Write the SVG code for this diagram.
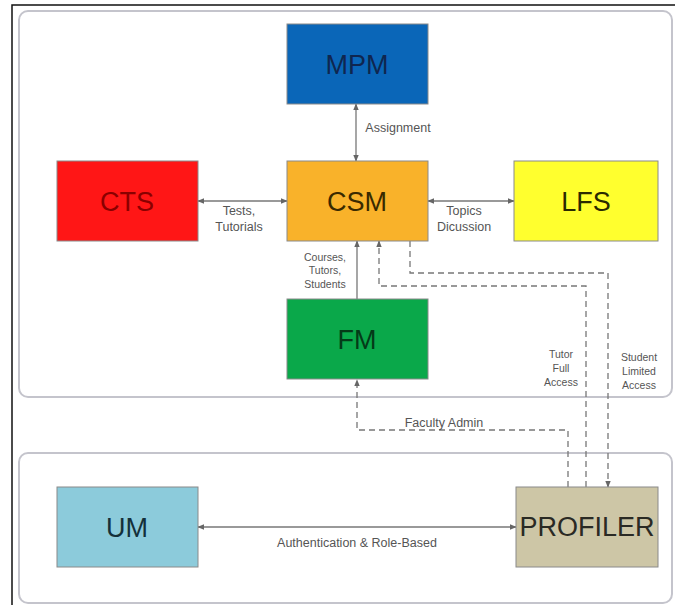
<svg xmlns="http://www.w3.org/2000/svg" width="675" height="605" viewBox="0 0 675 605">
<defs>
<marker id="ah" viewBox="0 0 10 10" refX="9" refY="5" markerWidth="7" markerHeight="7" orient="auto-start-reverse" markerUnits="userSpaceOnUse">
<path d="M0,1 L10,5 L0,9 z" fill="#666"/>
</marker>
<style>
.panel{fill:#fff;stroke:#c4c4cc;stroke-width:2}
.node{stroke:#8a8a8a;stroke-width:1}
.nt{font-family:"Liberation Sans",Arial,sans-serif;font-size:27px;text-anchor:middle}
.lbl{font-family:"Liberation Sans",Arial,sans-serif;font-size:12.5px;fill:#555;text-anchor:middle}
.sm{font-size:10.5px}
.c{stroke:#777;stroke-width:1.3;fill:none}
.d{stroke:#777;stroke-width:1.3;fill:none;stroke-dasharray:6,4}
</style>
</defs>
<rect x="0" y="0" width="675" height="605" fill="#fff"/>
<rect x="12" y="5" width="680" height="620" fill="#fff" stroke="#111" stroke-width="1.5"/>
<rect class="panel" x="19" y="11" width="653" height="386" rx="9"/>
<rect class="panel" x="19" y="453" width="653" height="150" rx="9"/>

<g id="connectors">
<line class="c" x1="356" y1="104" x2="356" y2="161" marker-start="url(#ah)" marker-end="url(#ah)"/>
<line class="c" x1="198" y1="201" x2="287" y2="201" marker-start="url(#ah)" marker-end="url(#ah)"/>
<line class="c" x1="428" y1="201" x2="514" y2="201" marker-start="url(#ah)" marker-end="url(#ah)"/>
<line class="c" x1="357" y1="299" x2="357" y2="241" marker-end="url(#ah)"/>
<polyline class="d" points="586,487 586,286 379,286 379,241" marker-end="url(#ah)"/>
<polyline class="d" points="410,241 410,273 608,273 608,487" marker-end="url(#ah)"/>
<polyline class="d" points="568,487 568,430 357,430 357,380" marker-end="url(#ah)"/>
<line class="c" x1="198" y1="527" x2="516" y2="527" marker-start="url(#ah)" marker-end="url(#ah)"/>
<text class="lbl" x="398" y="132">Assignment</text>
<text class="lbl" x="239" y="215">Tests,</text>
<text class="lbl" x="239" y="231">Tutorials</text>
<text class="lbl" x="464" y="215">Topics</text>
<text class="lbl" x="464" y="231">Dicussion</text>
<text class="lbl sm" x="325" y="261">Courses,</text>
<text class="lbl sm" x="325" y="274">Tutors,</text>
<text class="lbl sm" x="325" y="288">Students</text>
<text class="lbl sm" x="561" y="358">Tutor</text>
<text class="lbl sm" x="561" y="372">Full</text>
<text class="lbl sm" x="561" y="386">Access</text>
<text class="lbl sm" x="639" y="361">Student</text>
<text class="lbl sm" x="639" y="375">Limited</text>
<text class="lbl sm" x="639" y="389">Access</text>
<text class="lbl" x="444" y="427">Faculty Admin</text>
<text class="lbl" x="357" y="547">Authentication &amp; Role-Based</text>
</g>

<g id="MPM"><rect class="node" x="287" y="24" width="141" height="80" fill="#0a66b8"/><text class="nt" x="357" y="74" fill="#0f2650">MPM</text></g>
<g id="CTS"><rect class="node" x="57" y="161" width="141" height="80" fill="#ff1616"/><text class="nt" x="127" y="211" fill="#8a0000">CTS</text></g>
<g id="CSM"><rect class="node" x="287" y="161" width="141" height="80" fill="#f9b22a"/><text class="nt" x="357" y="211" fill="#3a2a00">CSM</text></g>
<g id="LFS"><rect class="node" x="514" y="161" width="144" height="80" fill="#ffff2e"/><text class="nt" x="586" y="211" fill="#2a2a00">LFS</text></g>
<g id="FM"><rect class="node" x="287" y="299" width="141" height="80" fill="#0aa84a"/><text class="nt" x="357" y="349" fill="#043a18">FM</text></g>
<g id="UM"><rect class="node" x="57" y="487" width="141" height="80" fill="#8ccbdb"/><text class="nt" x="127" y="537" fill="#14303a">UM</text></g>
<g id="PROFILER"><rect class="node" x="516" y="487" width="142" height="80" fill="#cdc6a6"/><text class="nt" x="587" y="536" font-size="25" fill="#2a2a24">PROFILER</text></g>
</svg>
